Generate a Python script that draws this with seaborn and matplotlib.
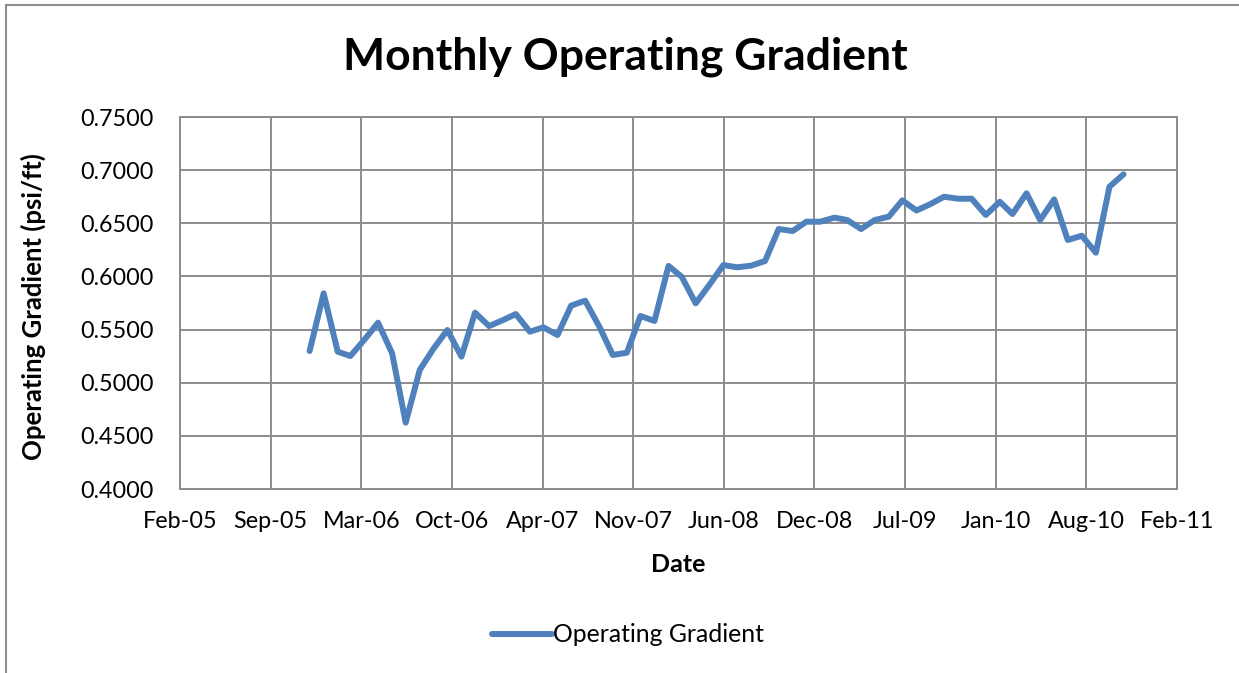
import numpy as np
import pandas as pd
import matplotlib
matplotlib.use("Agg")
import matplotlib.pyplot as plt
import matplotlib.dates as mdates
from matplotlib.lines import Line2D
import seaborn as sns

# ---- data ----
first_month = "2005-12-01"
gradient = [
    0.5298, 0.5841, 0.5292, 0.5251, 0.5405, 0.5565, 0.5277, 0.4624, 0.5120, 0.5324,
    0.5496, 0.5245, 0.5659, 0.5533, 0.5590, 0.5646, 0.5480, 0.5521, 0.5449, 0.5725,
    0.5772, 0.5530, 0.5261, 0.5282, 0.5628, 0.5581, 0.6099, 0.5997, 0.5747, 0.5920,
    0.6107, 0.6086, 0.6101, 0.6145, 0.6446, 0.6427, 0.6515, 0.6515, 0.6553, 0.6531,
    0.6446, 0.6531, 0.6562, 0.6716, 0.6620, 0.6681, 0.6750, 0.6731, 0.6731, 0.6578,
    0.6703, 0.6587, 0.6782, 0.6531, 0.6725, 0.6343, 0.6383, 0.6223, 0.6844, 0.6961,
]
dates = pd.date_range(first_month, periods=len(gradient), freq="MS")
df = pd.DataFrame({"Date": dates, "Operating Gradient": gradient})

x_min = pd.Timestamp("2005-02-18")
tick_step_days = 200
n_ticks = 12
tick_dates = [x_min + pd.Timedelta(days=tick_step_days * i) for i in range(n_ticks)]
x_max = tick_dates[-1]
y_ticks = [0.40, 0.45, 0.50, 0.55, 0.60, 0.65, 0.70, 0.75]

# ---- style ----
sns.set_theme(style="white")
plt.rcParams["font.family"] = ["Lato", "DejaVu Sans"]
plt.rcParams["text.color"] = "black"
plt.rcParams["axes.labelcolor"] = "black"

fig = plt.figure(figsize=(12.39, 6.73), dpi=100)
ax = fig.add_axes([180 / 1239, 1 - 489 / 673, (1177 - 180) / 1239, (489 - 117) / 673])

grid_col = "#8c8c8c"
sns.lineplot(data=df, x="Date", y="Operating Gradient", ax=ax,
             color="#4F81BD", linewidth=4.3, legend=False)

ax.set_xlim(x_min, x_max)
ax.set_ylim(0.40, 0.75)
ax.set_xticks(tick_dates)
ax.xaxis.set_major_formatter(mdates.DateFormatter("%b-%y"))
ax.set_yticks(y_ticks)
ax.set_yticklabels([f"{v:.4f}" for v in y_ticks])
ax.tick_params(axis="both", length=0, labelsize=16.8, colors="black")
ax.tick_params(axis="y", pad=19)
ax.tick_params(axis="x", pad=16)
ax.grid(True, color=grid_col, linewidth=1.4)
ax.set_axisbelow(True)
for s in ax.spines.values():
    s.set_color(grid_col)
    s.set_linewidth(1.4)

ax.set_xlabel("Date", fontsize=18, fontweight="bold")
ax.set_ylabel("Operating Gradient (psi/ft)", fontsize=18.5, fontweight="bold")
ax.xaxis.set_label_coords(0.5, (489 - 553) / 372)
ax.yaxis.set_label_coords((46 - 180) / 997, 0.49)

fig.text(625 / 1239, 1 - 57 / 673, "Monthly Operating Gradient", fontsize=32,
         fontweight="bold", ha="center", va="center", color="black")

handle = Line2D([], [], color="#4F81BD", linewidth=4.3)
fig.legend([handle], ["Operating Gradient"], loc="center",
           bbox_to_anchor=(628 / 1239, 1 - 635 / 673), frameon=False,
           fontsize=17.8, handlelength=2.4, handletextpad=0.05)

# outer chart-area border (top and left visible)
fig.add_artist(Line2D([5.5 / 1239, 1], [1 - 4.5 / 673, 1 - 4.5 / 673],
                      color="#8c8c8c", linewidth=1.5, transform=fig.transFigure))
fig.add_artist(Line2D([5.5 / 1239, 5.5 / 1239], [0, 1 - 4.5 / 673],
                      color="#8c8c8c", linewidth=1.5, transform=fig.transFigure))

fig.savefig("out.png", dpi=100)
